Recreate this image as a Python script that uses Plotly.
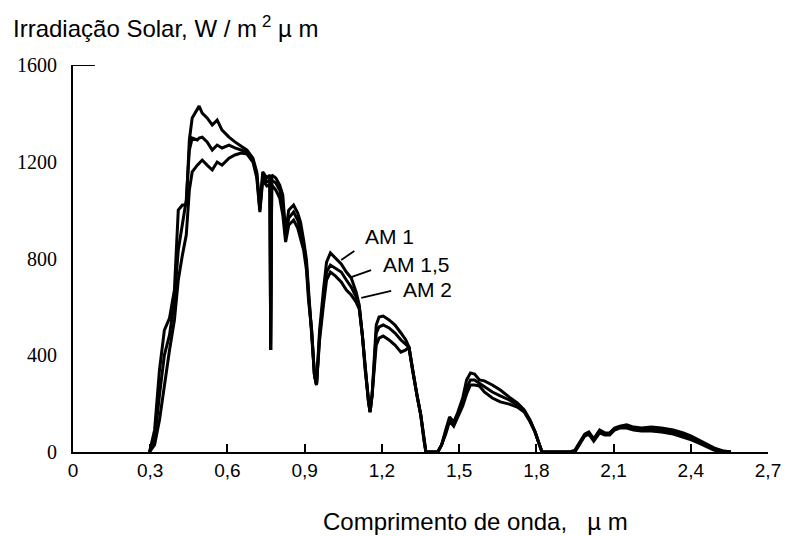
import plotly.graph_objects as go

# Spectral solar irradiance at ground level for three air masses
wavelength_um = [
    0.297, 0.317, 0.336, 0.355, 0.375, 0.394, 0.409, 0.425, 0.440, 0.452,
    0.463, 0.483, 0.490, 0.502, 0.521, 0.541, 0.560, 0.579, 0.606, 0.629,
    0.653, 0.676, 0.699, 0.714, 0.726, 0.737, 0.753, 0.765, 0.768, 0.772,
    0.788, 0.803, 0.815, 0.826, 0.838, 0.857, 0.873, 0.884, 0.896, 0.907,
    0.915, 0.927, 0.938, 0.946, 0.958, 0.973, 0.985, 1.000, 1.019, 1.042,
    1.062, 1.081, 1.100, 1.112, 1.124, 1.135, 1.147, 1.154, 1.162, 1.170,
    1.178, 1.189, 1.205, 1.228, 1.251, 1.274, 1.293, 1.305, 1.320, 1.336,
    1.351, 1.363, 1.371, 1.417, 1.432, 1.448, 1.463, 1.479, 1.494, 1.514,
    1.529, 1.544, 1.560, 1.579, 1.598, 1.629, 1.660, 1.695, 1.726, 1.753,
    1.776, 1.795, 1.811, 1.822, 1.931, 1.950, 1.969, 1.988, 2.004, 2.023,
    2.046, 2.066, 2.085, 2.104, 2.124, 2.151, 2.178, 2.208, 2.247, 2.286,
    2.332, 2.371, 2.402, 2.432, 2.459, 2.490, 2.525, 2.556,
]

am1 = [
    0, 91, 339, 504, 554, 670, 1000, 1021, 1021, 1290,
    1381, 1414, 1430, 1401, 1381, 1352, 1372, 1331, 1302, 1282,
    1265, 1248, 1215, 1158, 1009, 1158, 1133, 1145, 422, 1145,
    1133, 1104, 1062, 909, 1000, 1021, 988, 951, 876, 794,
    670, 504, 318, 277, 504, 670, 785, 823, 802, 777,
    744, 719, 661, 608, 484, 339, 215, 165, 236, 380,
    525, 558, 562, 546, 525, 492, 463, 434, 331, 236,
    153, 50, 0, 0, 29, 91, 145, 124, 161, 223,
    298, 327, 322, 298, 294, 277, 256, 227, 203, 174,
    132, 83, 33, 0, 0, 8, 41, 74, 83, 54,
    91, 79, 79, 99, 107, 112, 103, 99, 103, 99,
    91, 79, 66, 50, 33, 17, 4, 0,
]

am1_5 = [
    0, 50, 236, 401, 484, 628, 835, 938, 1042, 1248,
    1298, 1290, 1298, 1302, 1282, 1248, 1269, 1257, 1269, 1257,
    1248, 1240, 1207, 1149, 1000, 1141, 1116, 1124, 422, 1124,
    1112, 1083, 1021, 889, 967, 992, 959, 918, 856, 773,
    649, 504, 318, 277, 484, 628, 744, 773, 761, 744,
    711, 682, 641, 599, 484, 339, 215, 165, 236, 360,
    492, 517, 525, 513, 492, 463, 446, 434, 331, 236,
    153, 50, 0, 0, 29, 83, 136, 116, 153, 207,
    265, 298, 298, 285, 269, 248, 232, 215, 194, 169,
    128, 83, 33, 0, 0, 4, 37, 70, 79, 50,
    87, 74, 74, 95, 103, 107, 99, 95, 95, 91,
    83, 70, 58, 41, 29, 12, 4, 0,
]

am2 = [
    0, 29, 132, 277, 422, 546, 711, 814, 897, 1083,
    1158, 1186, 1195, 1207, 1186, 1166, 1199, 1186, 1215, 1228,
    1236, 1232, 1199, 1133, 992, 1124, 1100, 1104, 422, 1104,
    1083, 1050, 980, 868, 938, 959, 926, 885, 835, 752,
    628, 504, 318, 277, 463, 608, 711, 744, 728, 703,
    670, 649, 620, 591, 484, 339, 215, 165, 236, 339,
    442, 471, 480, 463, 442, 413, 422, 434, 331, 236,
    153, 50, 0, 0, 29, 74, 128, 107, 141, 190,
    240, 277, 277, 273, 248, 223, 207, 198, 186, 165,
    124, 83, 33, 0, 0, 0, 33, 66, 74, 45,
    79, 70, 70, 91, 99, 99, 91, 87, 87, 83,
    74, 62, 50, 37, 25, 8, 0, 0,
]

series_names = ["AM 1", "AM 1,5", "AM 2"]

x_tick_values = [0, 0.3, 0.6, 0.9, 1.2, 1.5, 1.8, 2.1, 2.4, 2.7]
x_tick_labels = ["0", "0,3", "0,6", "0,9", "1,2", "1,5", "1,8", "2,1", "2,4", "2,7"]
y_tick_values = [0, 400, 800, 1200, 1600]

# Callouts: (label, text anchor x, text anchor y, leader start x, y, leader end x, y)
callouts = [
    ("AM 1", 1.127, 889, 1.042, 794, 1.093, 831),
    ("AM 1,5", 1.197, 777, 1.081, 723, 1.158, 752),
    ("AM 2", 1.274, 670, 1.120, 637, 1.236, 666),
]

W, H = 793, 536
M_L, M_R, M_T, M_B = 73, 21, 65, 84
plot_w = W - M_L - M_R
plot_h = H - M_T - M_B

SANS = "Liberation Sans, Arial, sans-serif"
SERIF = "Liberation Serif, Times New Roman, serif"

fig = go.Figure()
for name, values in zip(series_names, [am1, am1_5, am2]):
    fig.add_trace(go.Scatter(
        x=wavelength_um, y=values, mode="lines", name=name,
        line=dict(color="black", width=3),
        showlegend=False, hoverinfo="skip",
    ))

for label, tx, ty, x0, y0, x1, y1 in callouts:
    fig.add_shape(type="line", xref="x", yref="y", x0=x0, y0=y0, x1=x1, y1=y1,
                  line=dict(color="black", width=1.8))
    fig.add_annotation(x=tx, y=ty, xref="x", yref="y", text=label, showarrow=False,
                       xanchor="left", yanchor="middle",
                       font=dict(family=SANS, size=21, color="black"))

# short inward tick marking the top of the scale
fig.add_shape(type="line", xref="x", yref="y", x0=0, y0=1600, x1=0.085, y1=1600,
              line=dict(color="black", width=2))

# axis titles
fig.add_annotation(x=(322 - M_L) / plot_w, y=-(521 - (H - M_B)) / plot_h,
                   xref="paper", yref="paper",
                   text="Comprimento de onda,\u00a0\u00a0\u00a0µ m", showarrow=False,
                   xanchor="left", yanchor="middle",
                   font=dict(family=SANS, size=24, color="black"))

fig.update_layout(
    width=W, height=H,
    margin=dict(l=M_L, r=M_R, t=M_T, b=M_B),
    paper_bgcolor="white", plot_bgcolor="white",
    title=dict(text="Irradiação Solar, W / m\u2009<sup>2</sup>\u00a0µ m",
               x=13 / W, xanchor="left", y=1 - 29 / H, yanchor="middle",
               font=dict(family=SANS, size=24, color="black")),
    xaxis=dict(range=[0, 2.7], tickvals=x_tick_values, ticktext=x_tick_labels,
               showline=True, linecolor="black", linewidth=2,
               ticks="inside", ticklen=8, tickwidth=2, tickcolor="black",
               showgrid=False, zeroline=False,
               tickfont=dict(family=SANS, size=19, color="black")),
    yaxis=dict(range=[0, 1600], tickvals=y_tick_values,
               showline=True, linecolor="black", linewidth=2,
               ticks="", ticklabelstandoff=10,
               showgrid=False, zeroline=False,
               tickfont=dict(family=SERIF, size=20, color="black")),
)

fig.write_html("out.html")
